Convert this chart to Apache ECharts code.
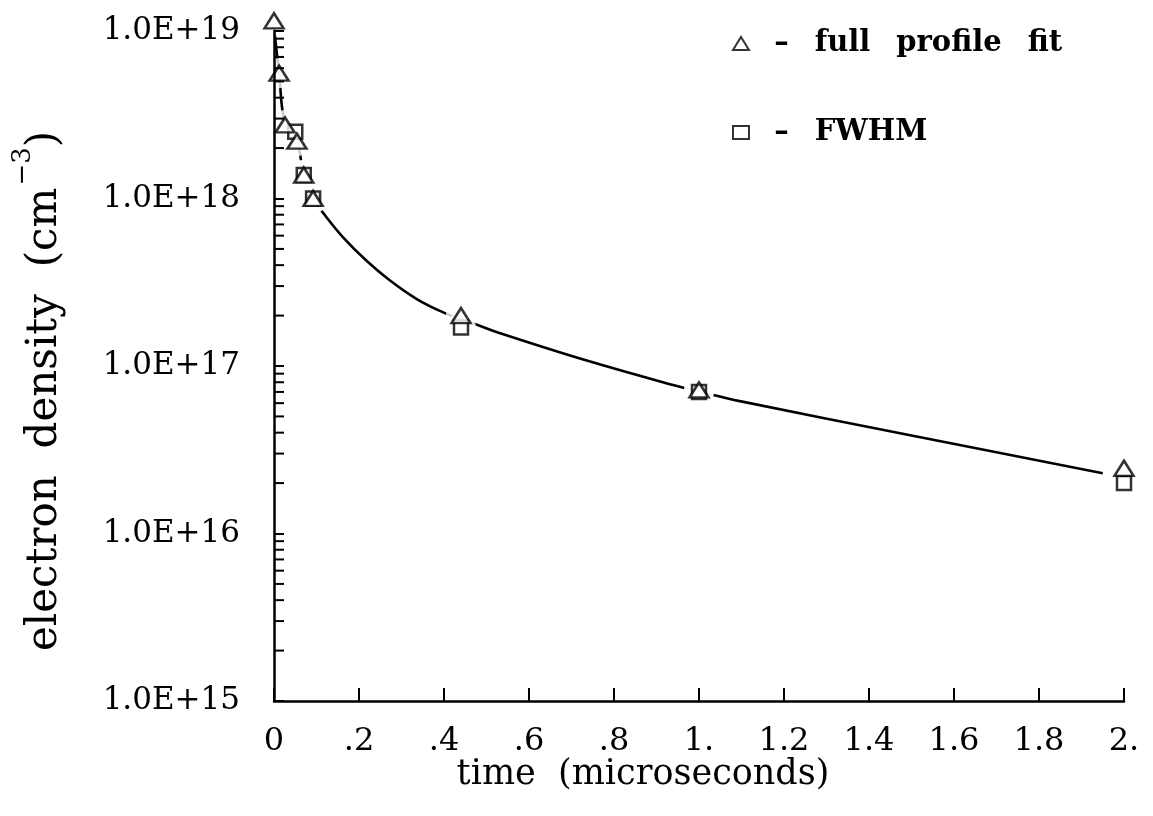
<!DOCTYPE html>
<html>
<head>
<meta charset="utf-8">
<script src="https://cdn.jsdelivr.net/npm/echarts@6/dist/echarts.min.js"></script>
<style>
html,body{margin:0;padding:0;background:#fff;}
#chart{width:1153px;height:816px;}
</style>
</head>
<body>
<div id="chart"></div>
<script>
// ---- data ----
const triX = [0, 0.012, 0.026, 0.054, 0.07, 0.092, 0.44, 1.0, 2.0];
const triY = [1.15e19, 5.6e18, 2.75e18, 2.2e18, 1.38e18, 1.0e18, 2.0e17, 7.2e16, 2.45e16];
const sqX = [0.05, 0.07, 0.092, 0.44, 1.0, 2.0];
const sqY = [2.5e18, 1.38e18, 1.0e18, 1.7e17, 7.0e16, 2.0e16];
const fitX = [0, 0.012, 0.026, 0.054, 0.07, 0.092, 0.12, 0.162, 0.219, 0.273, 0.336, 0.398, 0.44, 0.473, 0.532, 0.74, 0.948, 1.0, 1.096, 1.5, 1.95];
const fitY = [1.05e19, 5.6e18, 2.8e18, 2.2e18, 1.38e18, 1.0e18, 7.94e17, 5.89e17, 4.22e17, 3.24e17, 2.51e17, 2.09e17, 1.9e17, 1.78e17, 1.57e17, 1.07e17, 7.59e16, 7.05e16, 6.17e16, 3.85e16, 2.29e16];
const seriesNames = ['full profile fit', 'FWHM'];
const xTickValues = [0, 0.2, 0.4, 0.6, 0.8, 1.0, 1.2, 1.4, 1.6, 1.8, 2.0];
const xTickText = ['0', '.2', '.4', '.6', '.8', '1.', '1.2', '1.4', '1.6', '1.8', '2.'];
const yDecades = [15, 16, 17, 18, 19];
const yTickText = ['1.0E+15', '1.0E+16', '1.0E+17', '1.0E+18', '1.0E+19'];
const minorMultipliers = [2, 3, 4, 5, 6, 7, 8, 9];
const xTitle = 'time  (microseconds)';

const FONT = 'DejaVu Serif';
const minorTicks = [];
yDecades.slice(0, -1).forEach(d => minorMultipliers.forEach(m => minorTicks.push([0, m * Math.pow(10, d)])));
const markerPts = triX.map((x, i) => [x, triY[i]]).concat(sqX.map((x, i) => [x, sqY[i]]));
const GAP = '  \u2009';

const chart = echarts.init(document.getElementById('chart'), null, {renderer: 'canvas'});
const option = {
  backgroundColor: '#fff',
  animation: false,
  grid: {left: 274, right: 29, top: 31, bottom: 115, containLabel: false},
  legend: {
    orient: 'vertical',
    left: 727,
    top: 24,
    itemGap: 60,
    itemWidth: 16,
    itemHeight: 13,
    data: seriesNames,
    formatter: n => '  \u2013' + GAP + n.split(' ').join(GAP),
    textStyle: {fontFamily: FONT, fontWeight: 'bold', fontSize: 29, color: '#000'}
  },
  xAxis: {
    type: 'value', min: 0, max: 2, interval: 0.2,
    z: 10,
    axisLine: {lineStyle: {color: '#000', width: 2.5}},
    axisTick: {inside: true, length: 13, lineStyle: {color: '#000', width: 2}},
    splitLine: {show: false},
    axisLabel: {
      margin: 25, fontFamily: FONT, fontSize: 32, color: '#000',
      formatter: v => {
        const i = xTickValues.findIndex(t => Math.abs(t - v) < 1e-9);
        return i >= 0 ? xTickText[i] : '';
      }
    }
  },
  yAxis: {
    type: 'log', logBase: 10, min: 1e15, max: 1e19,
    z: 10,
    axisLine: {show: true, lineStyle: {color: '#000', width: 2.5}},
    axisTick: {show: true, inside: true, length: 10, lineStyle: {color: '#000', width: 2}},
    minorTick: {show: false},
    splitLine: {show: false},
    axisLabel: {
      margin: 34, fontFamily: FONT, fontSize: 31, color: '#000',
      formatter: v => {
        const i = yDecades.indexOf(Math.round(Math.log10(v)));
        return i >= 0 ? yTickText[i] : '';
      }
    }
  },
  graphic: [{
    type: 'text',
    x: 45, y: 391,
    rotation: Math.PI / 2,
    style: {
      text: '{a|electron  density  (cm}{s|\u22123}{a|)}',
      align: 'center', verticalAlign: 'middle',
      rich: {
        a: {fontFamily: FONT, fontSize: 42, fill: '#000'},
        s: {fontFamily: FONT, fontSize: 26, fill: '#000', padding: [0, 0, 44, 2]}
      }
    }
  }, {
    type: 'text',
    x: 643, y: 775,
    style: {
      text: xTitle,
      align: 'center', verticalAlign: 'middle',
      fontFamily: FONT, fontSize: 35, fill: '#000'
    }
  }],
  series: [
    {
      name: 'fit',
      type: 'line',
      smooth: 0.4,
      showSymbol: false,
      clip: false,
      silent: true,
      data: fitX.map((x, i) => [x, fitY[i]]),
      lineStyle: {color: '#000', width: 2.6},
      z: 3
    },
    {
      name: 'mask',
      type: 'scatter',
      symbol: 'circle',
      symbolSize: 30,
      clip: false,
      silent: true,
      data: markerPts,
      itemStyle: {color: '#fff'},
      z: 4
    },
    {
      name: seriesNames[1],
      type: 'scatter',
      symbol: 'rect',
      symbolSize: 14,
      clip: false,
      data: sqX.map((x, i) => [x, sqY[i]]),
      itemStyle: {color: '#fff', borderColor: '#000', borderWidth: 2.5},
      z: 5
    },
    {
      name: seriesNames[0],
      type: 'scatter',
      symbol: 'triangle',
      symbolSize: [19, 15],
      clip: false,
      data: triX.map((x, i) => [x, triY[i]]),
      itemStyle: {color: '#fff', borderColor: '#000', borderWidth: 2.5},
      z: 6
    },
    {
      type: 'custom',
      silent: true,
      clip: false,
      data: minorTicks,
      z: 7,
      renderItem: (params, api) => {
        const p = api.coord([api.value(0), api.value(1)]);
        return {type: 'line', shape: {x1: p[0], y1: p[1], x2: p[0] + 10, y2: p[1]}, style: {stroke: '#000', lineWidth: 2}};
      }
    }
  ]
};
chart.setOption(option);
</script>
</body>
</html>
